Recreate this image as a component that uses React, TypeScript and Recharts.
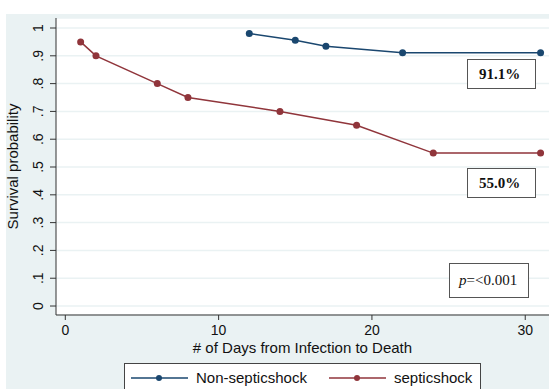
import React from "react";
import {
  LineChart,
  Line,
  XAxis,
  YAxis,
  CartesianGrid,
  Legend,
} from "recharts";

// survival estimates
const nonSepticDays = [12, 15, 17, 22, 31];
const nonSepticSurv = [0.98, 0.956, 0.934, 0.911, 0.911];
const septicDays = [1, 2, 6, 8, 14, 19, 24, 31];
const septicSurv = [0.95, 0.9, 0.8, 0.75, 0.7, 0.65, 0.55, 0.55];

const seriesNames = ["Non-septicshock", "septicshock"];
const seriesColors = ["#1a476f", "#90353b"];

const xTicks = [0, 10, 20, 30];
const yTicks = [0, 0.1, 0.2, 0.3, 0.4, 0.5, 0.6, 0.7, 0.8, 0.9, 1];

const nonSeptic = nonSepticDays.map((d, i) => ({ d, v: nonSepticSurv[i] }));
const septic = septicDays.map((d, i) => ({ d, v: septicSurv[i] }));

const SANS = "'Liberation Sans', Arial, sans-serif";
const SERIF = "'Liberation Serif', 'Times New Roman', serif";
const BG = "#eaf2f3";

// stata style labels: 0, .1, .2 ... 1
const fmtY = (v: number) => {
  if (v === 0) return "0";
  if (v === 1) return "1";
  return "." + Math.round(v * 10);
};

const YTick = (props: any) => {
  const { x, y, payload } = props;
  const tx = x - 7;
  return (
    <text
      x={tx}
      y={y}
      transform={`rotate(-90, ${tx}, ${y})`}
      textAnchor="middle"
      fontFamily={SANS}
      fontSize={14}
      fill="#111"
    >
      {fmtY(payload.value)}
    </text>
  );
};

const XTick = (props: any) => {
  const { x, y, payload } = props;
  return (
    <text x={x} y={y + 8} textAnchor="middle" fontFamily={SANS} fontSize={14} fill="#111">
      {payload.value}
    </text>
  );
};

const LegendBox = () => (
  <div
    style={{
      boxSizing: "border-box",
      width: 357,
      height: 34,
      background: "#fff",
      border: "1px solid #444",
      position: "relative",
      fontFamily: SANS,
      fontSize: 15,
      color: "#111",
    }}
  >
    {seriesNames.map((name, i) => {
      const left = i === 0 ? 6 : 204;
      return (
        <div
          key={name}
          style={{ position: "absolute", left, top: 4, display: "flex", alignItems: "center" }}
        >
          <svg width={57} height={20}>
            <line x1={0} y1={10} x2={57} y2={10} stroke={seriesColors[i]} strokeWidth={1.5} />
            <circle cx={28} cy={10} r={3} fill={seriesColors[i]} />
          </svg>
          <span style={{ marginLeft: 8, lineHeight: "20px" }}>{name}</span>
        </div>
      );
    })}
  </div>
);

const boxStyle = (left: number, top: number, w: number, h: number): React.CSSProperties => ({
  position: "absolute",
  left,
  top,
  width: w,
  height: h,
  boxSizing: "border-box",
  border: "1px solid #555",
  background: "#fff",
  fontFamily: SERIF,
  fontSize: 15,
  color: "#111",
  display: "flex",
  alignItems: "center",
  paddingLeft: 11,
});

export default function App() {
  return (
    <div
      style={{
        position: "absolute",
        left: 0,
        top: 0,
        width: 549,
        height: 389,
        background: "#fff",
        overflow: "hidden",
      }}
    >
      <div
        style={{ position: "absolute", left: 6, top: 14, width: 543, height: 375, background: BG }}
      />
      <div style={{ position: "absolute", left: 0, top: 0 }}>
        <LineChart
          width={549}
          height={389}
          margin={{ top: 18, right: 0, left: 0, bottom: 34 }}
        >
          <CartesianGrid
            horizontal
            vertical={false}
            fill="#fff"
            stroke={BG}
            strokeWidth={1.5}
          />
          <XAxis
            type="number"
            dataKey="d"
            domain={[-0.607, 31.55]}
            ticks={xTicks}
            allowDataOverflow
            height={40}
            tickSize={5}
            tickMargin={7}
            stroke="#333"
            tick={<XTick />}
            label={(p: any) => {
              const vb = p.viewBox || { x: 56, y: 315, width: 493 };
              return (
                <text
                  x={vb.x + vb.width / 2}
                  y={vb.y + 38}
                  textAnchor="middle"
                  fontFamily={SANS}
                  fontSize={15}
                  fill="#111"
                >
                  # of Days from Infection to Death
                </text>
              );
            }}
          />
          <YAxis
            type="number"
            dataKey="v"
            domain={[-0.0323, 1.036]}
            ticks={yTicks}
            allowDataOverflow
            width={56}
            tickSize={6}
            tickMargin={0}
            stroke="#333"
            tick={<YTick />}
            label={(p: any) => {
              const vb = p.viewBox || { x: 0, y: 18, height: 297 };
              const cy = vb.y + vb.height / 2;
              return (
                <text
                  x={18}
                  y={cy}
                  transform={`rotate(-90, 18, ${cy})`}
                  textAnchor="middle"
                  fontFamily={SANS}
                  fontSize={15}
                  fill="#111"
                >
                  Survival probability
                </text>
              );
            }}
          />
          <Line
            data={nonSeptic}
            dataKey="v"
            name={seriesNames[0]}
            type="linear"
            stroke={seriesColors[0]}
            strokeWidth={1.5}
            dot={{ r: 3.5, fill: seriesColors[0], stroke: seriesColors[0], strokeWidth: 0 }}
            isAnimationActive={false}
          />
          <Line
            data={septic}
            dataKey="v"
            name={seriesNames[1]}
            type="linear"
            stroke={seriesColors[1]}
            strokeWidth={1.5}
            dot={{ r: 3.5, fill: seriesColors[1], stroke: seriesColors[1], strokeWidth: 0 }}
            isAnimationActive={false}
          />
          <Legend
            layout="horizontal"
            verticalAlign="middle"
            align="center"
            wrapperStyle={{ left: 124, top: 363, width: 357, height: 34 }}
            content={() => <LegendBox />}
          />
        </LineChart>
      </div>
      <div style={boxStyle(467, 59, 69, 30)}>
        <b>91.1%</b>
      </div>
      <div style={boxStyle(467, 168, 69, 30)}>
        <b>55.0%</b>
      </div>
      <div style={{ ...boxStyle(449, 263, 80, 35), paddingLeft: 9 }}>
        <i>p</i>=&lt;0.001
      </div>
    </div>
  );
}
